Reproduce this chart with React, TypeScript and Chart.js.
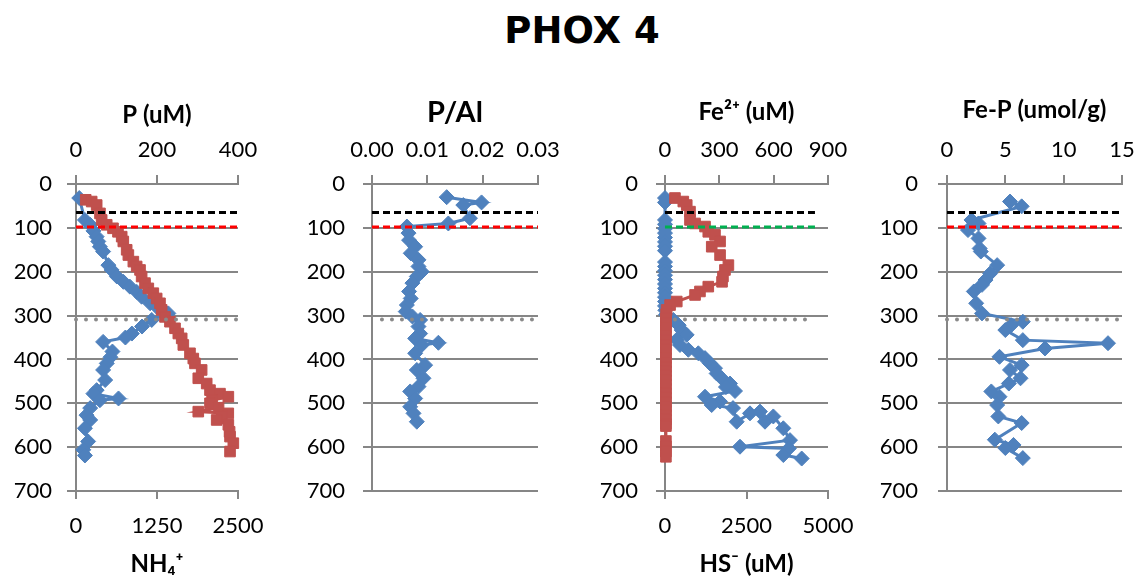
import React, { useEffect, useRef } from 'react';
import { Chart, registerables } from 'chart.js';

Chart.register(...registerables);

// ---------------- data ----------------
// Panel 1: P (uM) vs depth (top axis) and NH4+ (bottom axis)
const pDepth = [32, 82, 93, 107, 120, 131, 143, 154, 185, 196, 211, 223, 234, 246, 257, 272, 280, 287, 295, 310, 325, 341, 350, 360, 382, 395, 409, 424, 447, 470, 478, 489, 493, 511, 527, 538, 557, 587, 606, 619];
const pValues = [8, 22, 35, 43, 51, 55, 59, 67, 80, 88, 101, 117, 133, 150, 162, 183, 199, 215, 228, 187, 163, 138, 122, 67, 90, 85, 76, 67, 72, 51, 43, 105, 59, 35, 26, 35, 22, 30, 18, 22];
const nh4Depth = [36, 40, 48, 67, 82, 93, 101, 109, 120, 131, 150, 162, 177, 188, 196, 211, 226, 238, 249, 261, 272, 287, 303, 314, 329, 341, 352, 367, 386, 398, 409, 424, 443, 455, 470, 478, 485, 493, 500, 510, 519, 523, 530, 538, 549, 565, 576, 591, 610];
const nh4Values = [150, 242, 319, 370, 396, 474, 571, 648, 705, 730, 782, 808, 885, 936, 988, 1013, 1065, 1116, 1193, 1245, 1296, 1322, 1373, 1450, 1528, 1579, 1631, 1656, 1759, 1810, 1836, 1939, 1887, 2017, 2068, 2222, 2351, 2100, 2068, 2200, 1887, 2350, 2250, 2171, 2351, 2370, 2377, 2428, 2377];

// Panel 2: P/Al
const palDepth = [30, 42, 48, 78, 90, 97, 112, 128, 143, 158, 173, 188, 200, 211, 226, 245, 261, 276, 291, 302, 310, 325, 341, 352, 362, 367, 386, 413, 424, 443, 462, 473, 489, 508, 523, 542];
const palValues = [0.0135, 0.0198, 0.0165, 0.0177, 0.0138, 0.0063, 0.0066, 0.0067, 0.0078, 0.0070, 0.0084, 0.0084, 0.0090, 0.0081, 0.0073, 0.0067, 0.0070, 0.0063, 0.0061, 0.0073, 0.0087, 0.0084, 0.0087, 0.0078, 0.0120, 0.0090, 0.0078, 0.0096, 0.0081, 0.0093, 0.0084, 0.0069, 0.0078, 0.0069, 0.0075, 0.0081];

// Panel 3: Fe2+ (top axis) and HS- (bottom axis)
const fe2Depth = [32, 40, 48, 63, 82, 90, 97, 109, 116, 131, 143, 162, 185, 196, 211, 223, 234, 245, 253, 268, 276, 287, 297, 307, 317, 327, 337, 347, 357, 367, 377, 387, 397, 407, 417, 427, 437, 447, 457, 467, 477, 487, 497, 507, 517, 527, 537, 547, 552, 586, 598, 610, 622];
const fe2Values = [55, 101, 120, 138, 138, 166, 221, 239, 276, 304, 258, 304, 350, 331, 320, 315, 239, 193, 166, 65, 28, 9, 6, 5, 5, 5, 5, 5, 5, 5, 5, 5, 5, 5, 5, 5, 5, 5, 5, 5, 5, 5, 5, 5, 5, 5, 5, 5, 5, 5, 5, 5, 5];
const hsDepth = [32, 42, 82, 92, 102, 112, 122, 132, 142, 152, 178, 188, 198, 208, 218, 228, 238, 248, 258, 268, 278, 288, 298, 310, 322, 333, 344, 355, 367, 378, 386, 397, 409, 420, 432, 443, 455, 463, 472, 485, 496, 504, 511, 542, 523, 519, 542, 530, 557, 584, 599, 603, 618, 626];
const hsValues = [0, 0, 0, 0, 0, 0, 0, 0, 0, 0, 0, 0, 0, 0, 0, 0, 0, 0, 0, 0, 0, 10, 30, 255, 420, 512, 665, 358, 460, 716, 1022, 1227, 1380, 1534, 1585, 1738, 1994, 1870, 2147, 1227, 1690, 1432, 2086, 2199, 2607, 2914, 3067, 3323, 3630, 3834, 2300, 3800, 3630, 4193];

// Panel 4: Fe-P (umol/g)
const fepDepth = [40, 51, 82, 90, 105, 124, 147, 154, 185, 204, 219, 230, 245, 272, 295, 314, 322, 333, 356, 363, 375, 394, 413, 424, 443, 455, 473, 485, 504, 530, 545, 583, 595, 602, 625];
const fepValues = [5.4, 6.4, 2.1, 2.7, 1.8, 2.7, 2.8, 2.9, 4.3, 3.7, 3.3, 3.0, 2.3, 2.5, 3.0, 6.5, 5.5, 5.0, 6.5, 13.8, 8.4, 4.5, 6.4, 5.4, 6.3, 5.3, 3.8, 4.5, 4.3, 4.4, 6.4, 4.1, 5.7, 5.0, 6.5];

// reference depths (horizontal marker lines)
const blackLineDepth = 65;
const redLineDepth = 98;
const grayLineDepth = 309;

// axis tick settings
const depthMin = 0;
const depthMax = 700;
const depthStep = 100;

// ---------------- styling ----------------
const FONT = 'Lato, "Noto Sans", "DejaVu Sans", sans-serif';
const GRID = '#868686';
const BLUE = '#4F81BD';
const RED = '#C0504D';
const PLOT_TOP = 184;
const PLOT_BOTTOM_SPACE = 90;
const Y_WIDTH = 76;

function pts(xs: number[], ys: number[]) {
  return xs.map((x, i) => ({ x, y: ys[i] }));
}

function series(label: string, xs: number[], ys: number[], axis: string, color: string, style: string, radius: number, order: number) {
  return {
    label,
    data: pts(xs, ys),
    xAxisID: axis,
    yAxisID: 'y',
    showLine: true,
    borderColor: color,
    backgroundColor: color,
    borderWidth: 3,
    pointStyle: style,
    pointRadius: radius,
    pointBorderWidth: 1,
    pointBackgroundColor: color,
    pointBorderColor: color,
    tension: 0,
    clip: false,
    order,
  };
}

function refLine(label: string, x0: number, x1: number, y: number, color: string, dotted: boolean, axis: string) {
  return {
    label,
    data: [{ x: x0, y }, { x: x1, y }],
    xAxisID: axis,
    yAxisID: 'y',
    showLine: true,
    borderColor: color,
    backgroundColor: color,
    borderWidth: dotted ? 4 : 3,
    borderDash: dotted ? [0, 10] : [7, 4],
    borderCapStyle: dotted ? 'round' : 'butt',
    pointRadius: 0,
    tension: 0,
    clip: false,
    order: 0,
  };
}

type AxisSpec = {
  min: number;
  max: number;
  step: number;
  title: string;
  titleSize: number;
  titlePad: number;
  fmt?: (v: number) => string;
};

function xAxis(spec: AxisSpec, position: 'top' | 'bottom') {
  const top = position === 'top';
  return {
    type: 'linear',
    position,
    min: spec.min,
    max: spec.max,
    ticks: {
      stepSize: spec.step,
      color: '#000',
      font: { family: FONT, size: 22 },
      padding: top ? 12 : 14,
      maxRotation: 0,
      autoSkip: false,
      callback: (v: any) => (spec.fmt ? spec.fmt(Number(v)) : String(Math.round(Number(v) * 1000) / 1000)),
    },
    grid: {
      drawOnChartArea: false,
      drawTicks: true,
      tickLength: top ? 9 : 8,
      color: GRID,
      lineWidth: 2,
    },
    border: { display: true, color: GRID, width: 2 },
    title: {
      display: true,
      text: spec.title,
      color: '#000',
      font: { family: FONT, size: spec.titleSize, weight: 'bold' },
      padding: top ? { top: spec.titlePad, bottom: 0 } : { top: 0, bottom: spec.titlePad },
    },
    afterFit: (s: any) => {
      s.height = top ? PLOT_TOP : PLOT_BOTTOM_SPACE;
      s.paddingLeft = 0;
      s.paddingRight = 0;
    },
  };
}

function yAxis(labelPad: number) {
  return {
    type: 'linear',
    position: 'left',
    reverse: true,
    min: depthMin,
    max: depthMax,
    ticks: {
      stepSize: depthStep,
      color: '#000',
      font: { family: FONT, size: 22 },
      padding: labelPad,
      callback: (v: any) => String(v),
    },
    grid: { color: GRID, lineWidth: 2, tickLength: 9, drawTicks: true },
    border: { display: true, color: GRID, width: 2 },
    afterFit: (s: any) => {
      s.width = Y_WIDTH;
      s.paddingTop = 0;
      s.paddingBottom = 0;
    },
  };
}

function makeChart(canvas: HTMLCanvasElement, top: AxisSpec, bottom: AxisSpec | null, datasets: any[], rightPad: number, labelPad: number) {
  const scales: any = { y: yAxis(labelPad), xTop: xAxis(top, 'top') };
  if (bottom) scales.xBot = xAxis(bottom, 'bottom');
  return new Chart(canvas, {
    type: 'scatter',
    data: { datasets },
    options: {
      responsive: false,
      animation: false,
      devicePixelRatio: 1,
      events: [],
      layout: { padding: { left: 0, top: 0, right: rightPad, bottom: bottom ? 0 : PLOT_BOTTOM_SPACE } },
      plugins: { legend: { display: false }, tooltip: { enabled: false }, title: { display: false } },
      scales,
    } as any,
  } as any);
}

const PANELS = [
  { left: 0, width: 266 },
  { left: 296, width: 266 },
  { left: 589, width: 265 },
  { left: 871, width: 266 },
];

export default function App() {
  const c1 = useRef<HTMLCanvasElement>(null);
  const c2 = useRef<HTMLCanvasElement>(null);
  const c3 = useRef<HTMLCanvasElement>(null);
  const c4 = useRef<HTMLCanvasElement>(null);

  useEffect(() => {
    const charts: Chart[] = [];
    if (c1.current) {
      charts.push(
        makeChart(
          c1.current,
          { min: 0, max: 400, step: 200, title: 'P (uM)', titleSize: 24, titlePad: 101 },
          { min: 0, max: 2500, step: 1250, title: 'NH₄⁺', titleSize: 24, titlePad: 2 },
          [
            refLine('top', 0, 400, blackLineDepth, '#000000', false, 'xTop'),
            refLine('redox', 0, 400, redLineDepth, '#FF0000', false, 'xTop'),
            refLine('smtz', 0, 400, grayLineDepth, '#8A8A8A', true, 'xTop'),
            series('NH4+', nh4Values, nh4Depth, 'xBot', RED, 'rect', 7.5, 1),
            series('P', pValues, pDepth, 'xTop', BLUE, 'rectRot', 7.5, 2),
          ],
          28,
          15
        )
      );
    }
    if (c2.current) {
      charts.push(
        makeChart(
          c2.current,
          { min: 0, max: 0.03, step: 0.01, title: 'P/Al', titleSize: 29, titlePad: 95, fmt: (v) => v.toFixed(2) },
          null,
          [
            refLine('top', 0, 0.03, blackLineDepth, '#000000', false, 'xTop'),
            refLine('redox', 0, 0.03, redLineDepth, '#FF0000', false, 'xTop'),
            refLine('smtz', 0.0018, 0.03, grayLineDepth, '#8A8A8A', true, 'xTop'),
            series('P/Al', palValues, palDepth, 'xTop', BLUE, 'rectRot', 7.5, 2),
          ],
          24,
          18
        )
      );
    }
    if (c3.current) {
      charts.push(
        makeChart(
          c3.current,
          { min: 0, max: 900, step: 300, title: 'Fe²⁺ (uM)', titleSize: 24, titlePad: 98 },
          { min: 0, max: 5000, step: 2500, title: 'HS⁻ (uM)', titleSize: 24, titlePad: 2 },
          [
            refLine('top', 0, 828, blackLineDepth, '#000000', false, 'xTop'),
            refLine('redox', 0, 828, redLineDepth, '#00B050', false, 'xTop'),
            refLine('smtz', 55, 828, grayLineDepth, '#8A8A8A', true, 'xTop'),
            series('Fe2+', fe2Values, fe2Depth, 'xTop', RED, 'rect', 7.5, 1),
            series('HS-', hsValues, hsDepth, 'xBot', BLUE, 'rectRot', 7.5, 2),
          ],
          26,
          18
        )
      );
    }
    if (c4.current) {
      charts.push(
        makeChart(
          c4.current,
          { min: 0, max: 15, step: 5, title: 'Fe-P (umol/g)', titleSize: 24, titlePad: 96 },
          null,
          [
            refLine('top', 0, 15, blackLineDepth, '#000000', false, 'xTop'),
            refLine('redox', 0, 15, redLineDepth, '#FF0000', false, 'xTop'),
            refLine('smtz', 0, 14.6, grayLineDepth, '#8A8A8A', true, 'xTop'),
            series('Fe-P', fepValues, fepDepth, 'xTop', BLUE, 'rectRot', 7.5, 2),
          ],
          15,
          20
        )
      );
    }
    return () => charts.forEach((c) => c.destroy());
  }, []);

  const refs = [c1, c2, c3, c4];
  return (
    <div style={{ position: 'absolute', left: 0, top: 0, width: 1137, height: 581, overflow: 'hidden', background: '#ffffff' }}>
      <div
        style={{
          position: 'absolute',
          left: 282,
          width: 600,
          top: 12,
          textAlign: 'center',
          fontFamily: '"DejaVu Sans", sans-serif',
          fontWeight: 'bold',
          fontSize: 37,
          lineHeight: '1',
          color: '#000',
        }}
      >
        PHOX 4
      </div>
      {PANELS.map((p, i) => (
        <canvas
          key={i}
          ref={refs[i]}
          width={p.width}
          height={581}
          style={{ position: 'absolute', left: p.left, top: 0, width: p.width, height: 581 }}
        />
      ))}
    </div>
  );
}
